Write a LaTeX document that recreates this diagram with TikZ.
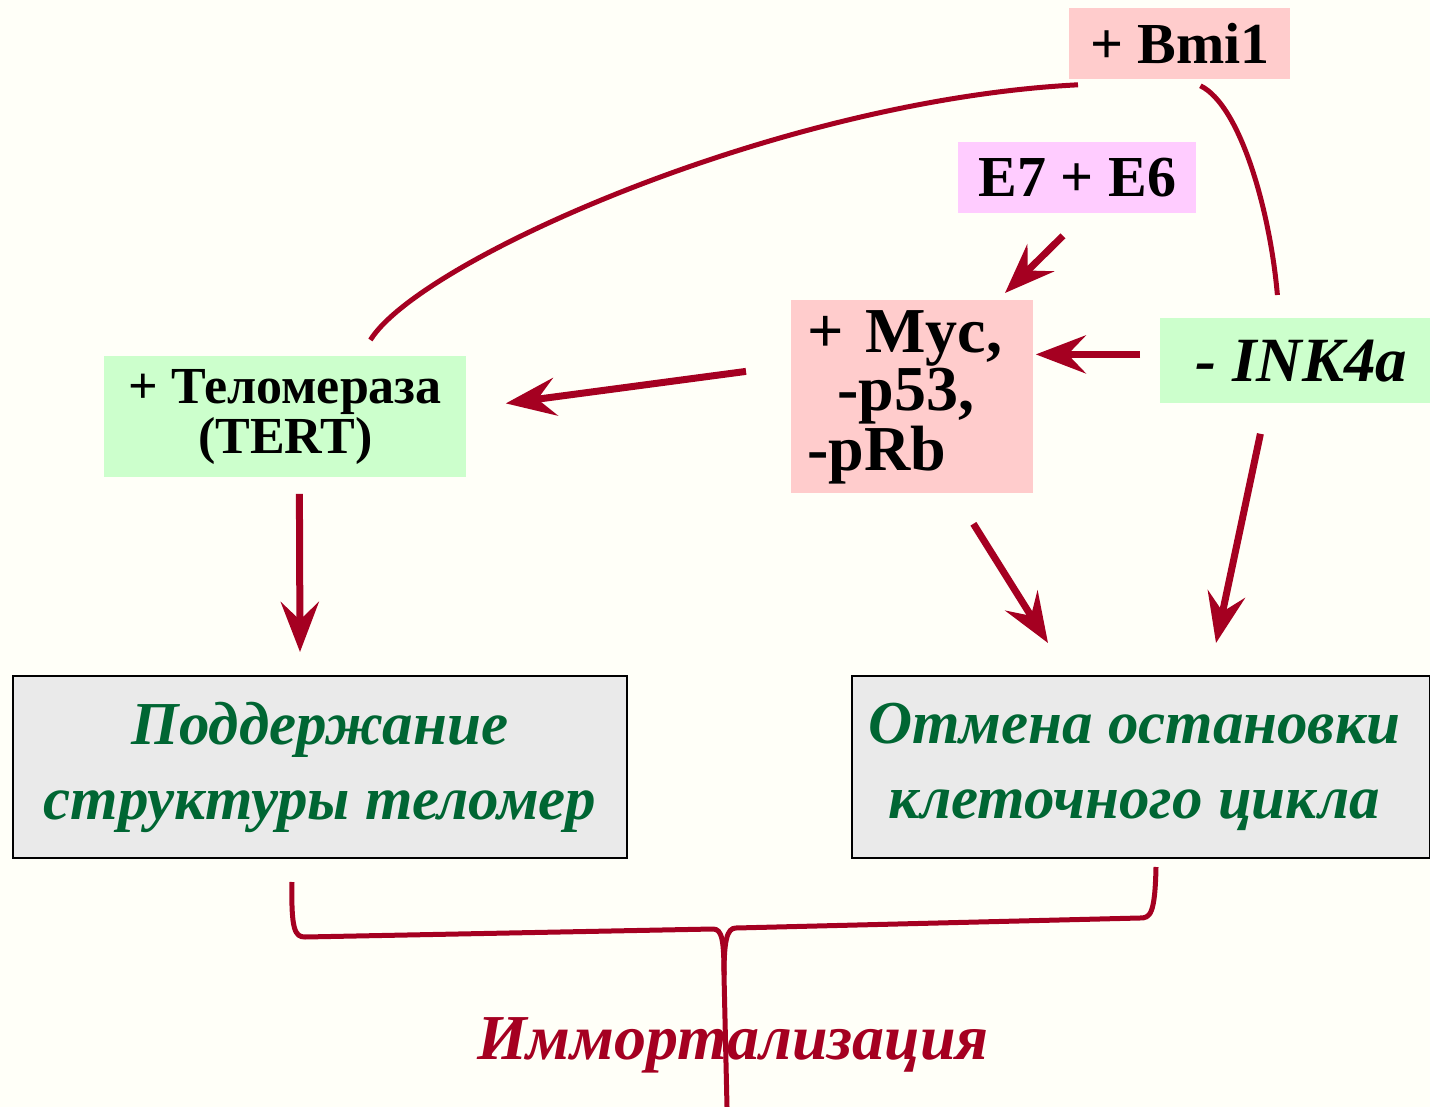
\documentclass[tikz,border=0pt]{standalone}
\usepackage{fontspec}
\setmainfont{Liberation Serif}
\usetikzlibrary{arrows.meta}
\definecolor{bg}{HTML}{FFFFF8}
\definecolor{wine}{HTML}{A50021}
\definecolor{leaf}{HTML}{006633}
\definecolor{rosy}{HTML}{FFCCCC}
\definecolor{lilac}{HTML}{FFCCFF}
\definecolor{mint}{HTML}{CCFFCC}
\definecolor{ash}{HTML}{EAEAEA}

\begin{document}
\begin{tikzpicture}[x=0.5pt,y=-0.5pt,>={Stealth[length=25pt,width=19pt,inset=9pt]}]
  \tikzstyle{tag}=[anchor=north west,inner sep=0pt,font=\bfseries]
  \tikzstyle{goal}=[tag,draw=black,line width=1pt,fill=ash,align=center,
    text=leaf,font=\bfseries\itshape\fontsize{30.5}{37.5}\selectfont]
  \tikzstyle{arr}=[->,wine,line width=3.5pt]
  \tikzstyle{link}=[wine,line width=2.5pt]

  \fill[bg] (0,0) rectangle (1430,1107);
  \useasboundingbox (0,0) rectangle (1430,1107);

  \node[tag,fill=rosy,minimum width=110.5pt,minimum height=35.5pt,
    font=\bfseries\fontsize{29}{30}\selectfont] (bmi) at (1069,8) {+ Bmi1};
  \node[tag,fill=lilac,minimum width=119pt,minimum height=35.5pt,
    font=\bfseries\fontsize{29}{30}\selectfont] (viral) at (958,142) {E7 + E6};
  \node[tag,fill=rosy,minimum width=121pt,minimum height=96.5pt,inner xsep=8pt,
    text width=105pt,align=left,font=\bfseries\fontsize{32}{29}\selectfont]
    (myc) at (791,300) {+ Myc,\\\hspace*{15pt}-p53,\\-pRb};
  \node[tag,fill=mint,minimum width=135pt,minimum height=42.5pt,
    font=\bfseries\itshape\fontsize{31.5}{32}\selectfont] (ink) at (1160,318) {\hspace*{6pt}- INK4a};
  \node[tag,fill=mint,minimum width=181pt,minimum height=60.5pt,align=center,
    font=\bfseries\fontsize{26}{25}\selectfont] (tert) at (104,356) {+ Теломераза\\(TERT)};

  \node[goal,minimum width=307pt,minimum height=91pt] (keep) at (12,675)
    {Поддержание\\структуры теломер};
  \node[goal,minimum width=289pt,minimum height=91pt] (cycle) at (851,675)
    {Отмена остановки\hspace*{7pt}\\клеточного цикла\hspace*{7pt}};

  \node[text=wine,font=\bfseries\itshape\fontsize{32}{32}\selectfont] (immort)
    at (733,1045) {Иммортализация};

  \draw[arr] ([shift={(105,22)}]viral.south west) -- ([shift={(214,-7)}]myc.north west);
  \draw[arr] ([shift={(-20,-6.5)}]ink.west) -- ([shift={(2,-42.5)}]myc.east);
  \draw[arr] ([shift={(-45,-25.5)}]myc.west) -- ([shift={(39,-13.5)}]tert.east);
  \draw[arr] ([shift={(14,16)}]tert.south) -- ([shift={(-20,-23)}]keep.north);
  \draw[arr] ([shift={(61,30)}]myc.south) -- ([shift={(-93,-32)}]cycle.north);
  \draw[arr] ([shift={(-35,30)}]ink.south) -- ([shift={(75,-32)}]cycle.north);

  \draw[link] ([shift={(9,5)}]bmi.south west) .. controls (780,100) and (420,260)
    .. ([shift={(85,-16)}]tert.north);
  \draw[link] ([shift={(20.5,6)}]bmi.south) .. controls (1240,105) and (1270,210)
    .. ([shift={(-18,-23)}]ink.north);

  \draw[link] ([shift={(-28,23)}]keep.south) .. controls (291,930) and (295,937) .. (305,937)
    -- (713,929) .. controls (722,929) and (724,940) .. (724,975) -- (727,1107);
  \draw[link] ([shift={(15,8)}]cycle.south) .. controls (1155,915) and (1150,918) .. (1140,918)
    -- (736,928) .. controls (727,928) and (724,940) .. (724,975);
\end{tikzpicture}
\end{document}
